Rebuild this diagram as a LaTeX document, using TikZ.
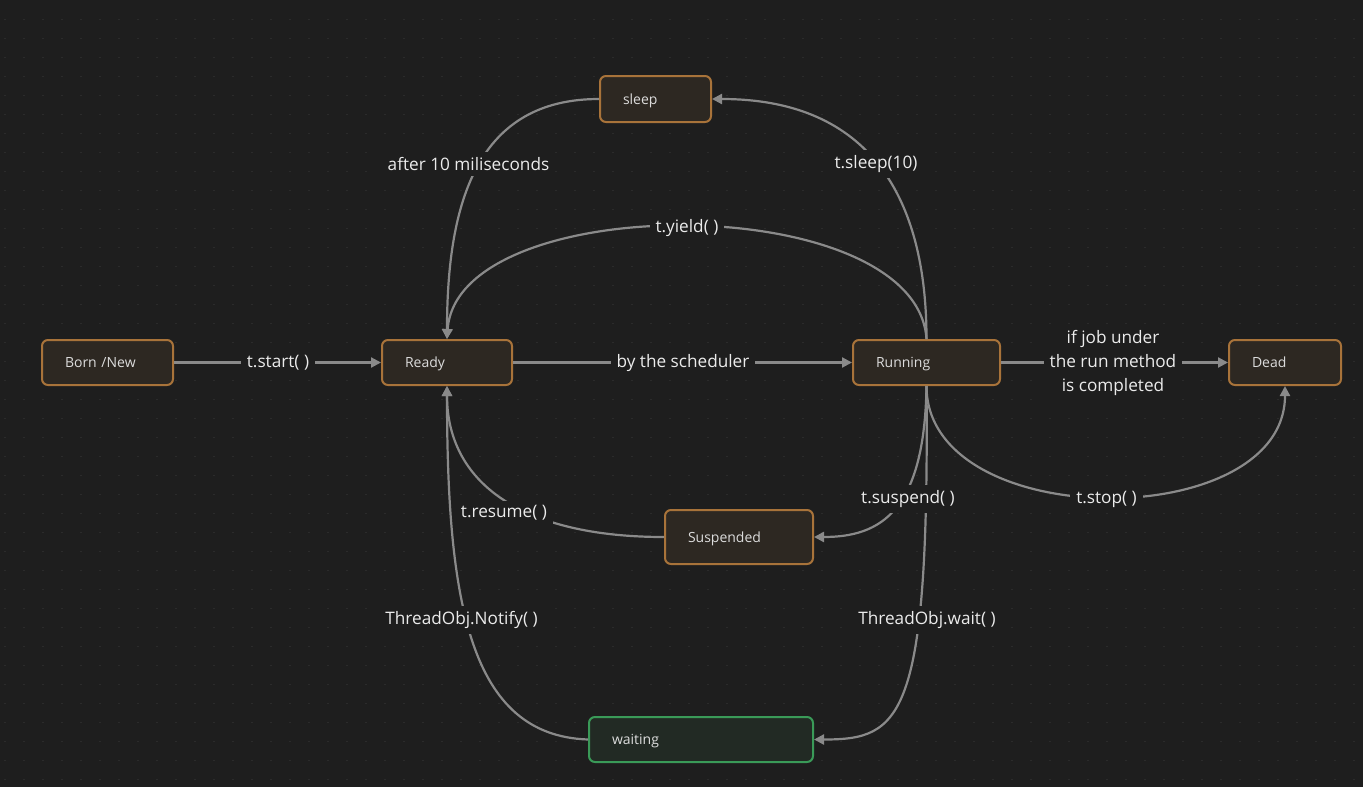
\documentclass[tikz,border=0pt]{standalone}
\usepackage{fontspec}
\setmainfont{Open Sans}
\usetikzlibrary{arrows.meta}

\definecolor{canvas}{HTML}{1E1E1E}
\definecolor{dotgrid}{HTML}{2B2B2B}
\definecolor{statefill}{HTML}{2D2822}
\definecolor{stateline}{HTML}{A8733A}
\definecolor{waitfill}{HTML}{222A24}
\definecolor{waitline}{HTML}{3A9A58}
\definecolor{edgegray}{HTML}{8A8A8A}
\definecolor{nodetext}{HTML}{DCDCDC}
\definecolor{labeltext}{HTML}{EBEBEB}

\begin{document}
\begin{tikzpicture}[
  x=1pt, y=-1pt,
  state/.style={draw=stateline, fill=statefill, rounded corners=6pt,
    line width=2pt, minimum height=45pt, inner xsep=23pt, inner ysep=0pt,
    text height=12pt, text depth=2pt,
    align=left, text=nodetext, font=\fontsize{14}{16}\selectfont},
  waitstate/.style={state, draw=waitline, fill=waitfill},
  flow/.style={draw=edgegray, line width=2.2pt,
    -{Triangle[length=10pt,width=10pt]}},
  lbl/.style={fill=canvas, text=labeltext, inner xsep=6pt, inner ysep=5pt,
    align=center, font=\fontsize{17.2}{24}\selectfont}
]
% canvas and dotted grid
\fill[canvas] (0,0) rectangle (1363,787);
\useasboundingbox (0,0) rectangle (1363,787);
\foreach \i in {0,...,71}
  \foreach \j in {0,...,40}
    \fill[dotgrid] (4+19*\i, 18.5+19*\j) rectangle +(1.6,1.6);

% states
\node[state, text width=85pt]  (born)      at (107.5,362.5) {Born /New};
\node[state, text width=84pt]  (ready)     at (447,362.5)   {Ready};
\node[state, text width=101pt] (running)   at (926.5,362.5) {Running};
\node[state, text width=66pt]  (dead)      at (1285,362.5)  {Dead};
\node[state, text width=65pt, minimum height=46pt] (sleep) at (655.5,99) {sleep};
\node[state, text width=102pt, minimum height=54pt] (suspended) at (739,537) {Suspended};
\node[waitstate, text width=178pt] (waiting) at (701,739.5) {waiting};

% transitions
\draw[flow] (born.east) -- (ready.west);
\draw[flow] (ready.east) -- (running.west);
\draw[flow] (running.east) -- (dead.west);
\draw[flow] (running.north) .. controls +(0,-140) and +(159,0) .. (sleep.east);
\draw[flow] (sleep.west) .. controls +(-120,0) and +(0,-140) .. (ready.north);
\draw[flow] (running.north) .. controls +(-10,-150) and +(10,-150) .. (ready.north);
\draw[flow] (running.south) .. controls +(-2,125) and +(67,0) .. (suspended.east);
\draw[flow] (suspended.west) .. controls +(-145,0) and +(0,95) .. (ready.south);
\draw[flow] (running.south) .. controls +(0,148) and +(0,148) .. (dead.south);
\draw[flow] (running.south) .. controls +(3,335) and +(87,0) .. (waiting.east);
\draw[flow] (waiting.west) .. controls +(-119,-4) and +(0,215) .. (ready.south);

% transition labels
\node[lbl] (lstart)   at (278,363)    {t.start( )};
\node[lbl] (lsched)   at (683,363)    {by the scheduler};
\node[lbl] (ldone)    at (1113,363)   {if job under\\the run method\\is completed};
\node[lbl] (lsleep)   at (876,164)    {t.sleep(10)};
\node[lbl] (lafter)   at (468.5,164)  {after 10 miliseconds};
\node[lbl] (lyield)   at (687,228)    {t.yield( )};
\node[lbl] (lsuspend) at (908,499)    {t.suspend( )};
\node[lbl] (lstop)    at (1106.5,499) {t.stop( )};
\node[lbl] (lresume)  at (504,513)    {t.resume( )};
\node[lbl] (lnotify)  at (461.5,620)  {ThreadObj.Notify( )};
\node[lbl] (lwait)    at (927,620)    {ThreadObj.wait( )};
\end{tikzpicture}
\end{document}
